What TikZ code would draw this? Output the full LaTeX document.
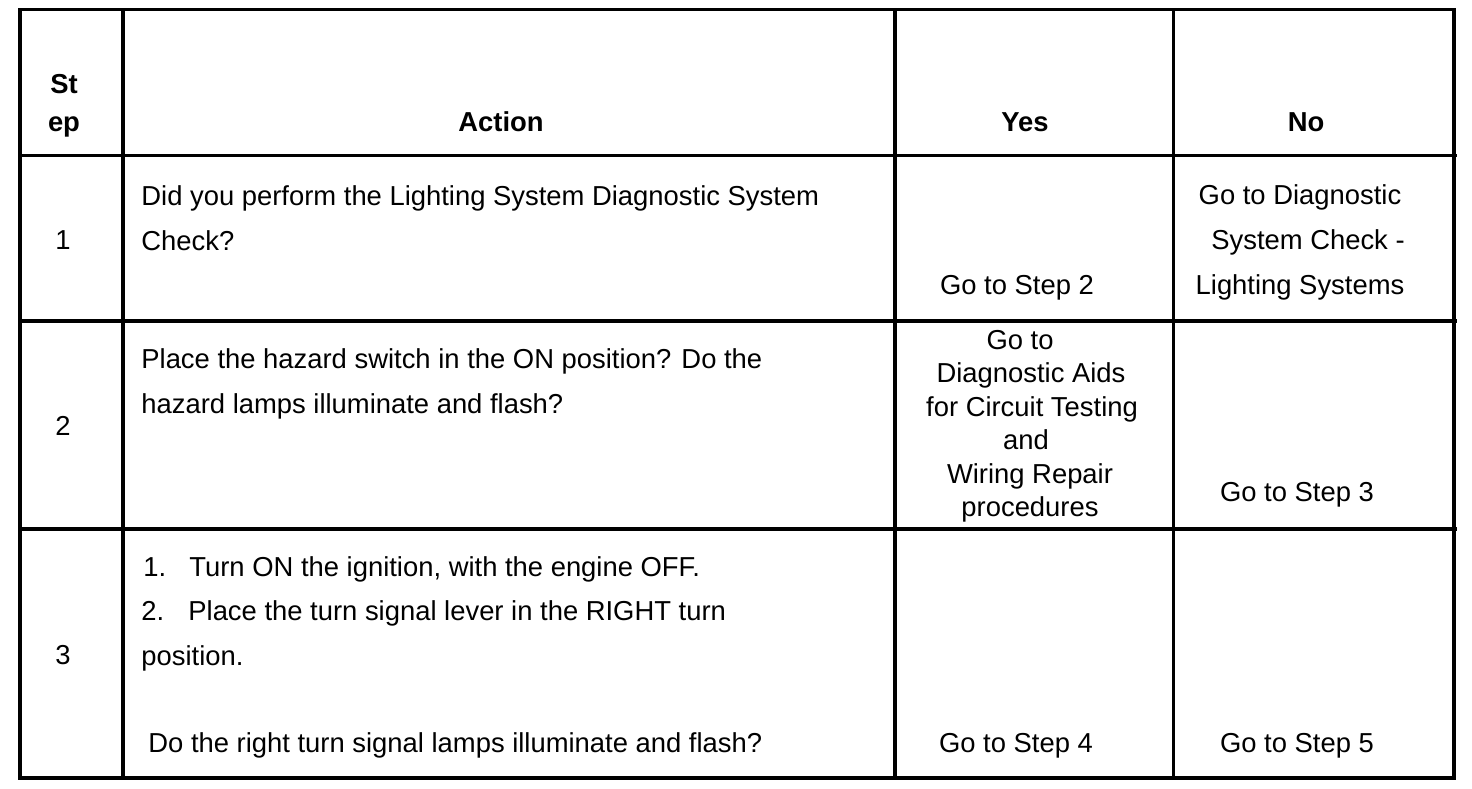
\documentclass[tikz,border=0pt]{standalone}
\usepackage{fontspec}
\setmainfont{Liberation Sans}
\begin{document}
\begin{tikzpicture}[x=0.5pt,y=-0.5pt,
  grid/.style={line width=1.6pt,line cap=rect},
  txt/.style={inner sep=0pt,font=\fontsize{13.7}{15}\selectfont},
  hdr/.style={txt,font=\fontsize{13.7}{15}\selectfont\bfseries},
  lft/.style={anchor=base west},
  ctr/.style={anchor=base}]
\useasboundingbox (0,0) rectangle (1472,788);
% grid
\coordinate (tl) at (20,9.5);
\coordinate (br) at (1454,778);
\draw[grid] (tl) rectangle (br);
\foreach \yy in {155.5,321,529} \draw[grid] (20,\yy) -- (1455,\yy);
\foreach \xx in {123,895,1173.5} \draw[grid] (\xx,9.5) -- (\xx,778);
% header
\node[hdr,ctr] (h1) at (64,93) {St};
\node[hdr,ctr] (h2) at (64,131) {ep};
\node[hdr,ctr] (ha) at (501,131) {Action};
\node[hdr,ctr] (hy) at (1025,131) {Yes};
\node[hdr,ctr] (hn) at (1306,131) {No};
% row 1
\node[txt,ctr] (s1) at (63,249) {1};
\node[txt,lft] (a1a) at (141,205) {Did you perform the Lighting System Diagnostic System};
\node[txt,lft] (a1b) at (141,250) {Check?};
\node[txt,ctr] (y1) at (1017,294) {Go to Step 2};
\node[txt,ctr] (n1a) at (1300,204) {Go to Diagnostic};
\node[txt,ctr] (n1b) at (1308,249) {System Check -};
\node[txt,ctr] (n1c) at (1300,294) {Lighting Systems};
% row 2
\node[txt,ctr] (s2) at (63,435) {2};
\node[txt,lft] (a2a) at (141,368) {Place the hazard switch in the ON position? Do the};
\node[txt,lft] (a2b) at (141,413) {hazard lamps illuminate and flash?};
\node[txt,ctr] (y2a) at (1020,349) {Go to};
\node[txt,ctr] (y2b) at (1031,382) {Diagnostic Aids};
\node[txt,ctr] (y2c) at (1032,416) {for Circuit Testing};
\node[txt,ctr] (y2d) at (1026,449) {and};
\node[txt,ctr] (y2e) at (1030,483) {Wiring Repair};
\node[txt,ctr] (y2f) at (1030,516) {procedures};
\node[txt,ctr] (n2) at (1297,501) {Go to Step 3};
% row 3
\node[txt,ctr] (s3) at (63,664) {3};
\node[txt,lft] (a3n1) at (143,576) {1.};
\node[txt,lft] (a3a) at (189,576) {Turn ON the ignition, with the engine OFF.};
\node[txt,lft] (a3n2) at (141,620) {2.};
\node[txt,lft] (a3b) at (188,620) {Place the turn signal lever in the RIGHT turn};
\node[txt,lft] (a3c) at (141,665) {position.};
\node[txt,lft] (a3d) at (148,752) {Do the right turn signal lamps illuminate and flash?};
\node[txt,ctr] (y3) at (1016,752) {Go to Step 4};
\node[txt,ctr] (n3) at (1297,752) {Go to Step 5};
\end{tikzpicture}
\end{document}
